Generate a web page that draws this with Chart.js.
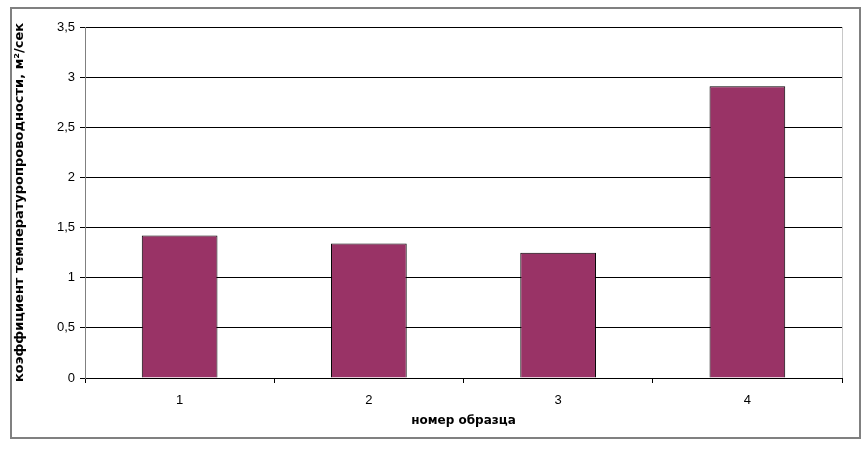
<!DOCTYPE html>
<html>
<head>
<meta charset="utf-8">
<script src="https://cdn.jsdelivr.net/npm/chart.js@4/dist/chart.umd.min.js"></script>
<style>
  html, body { margin: 0; padding: 0; background: #fff; }
  #wrap { position: relative; width: 867px; height: 452px; }
  #frame { position: absolute; left: 10px; top: 7px; width: 851px; height: 432px; box-sizing: border-box; border: 2px solid #808080; pointer-events: none; }
</style>
</head>
<body>
<div id="wrap">
  <canvas id="c" width="867" height="452"></canvas>
  <div id="frame"></div>
</div>
<script>
const categories = ['1', '2', '3', '4'];
const diffusivity = [1.42, 1.34, 1.25, 2.91];
const yTicks = [0, 0.5, 1, 1.5, 2, 2.5, 3, 3.5];
const xTitle = 'номер образца';
const yTitle = 'коэффициент температуропроводности, м²/сек';

const FONT = '"Liberation Sans", Arial, sans-serif';
const TFONT = '"DejaVu Sans", "Liberation Sans", Arial, sans-serif';

const rightBorder = {
  id: 'rightBorder',
  afterDraw(chart) {
    const a = chart.chartArea, ctx = chart.ctx;
    ctx.save();
    ctx.strokeStyle = '#c8c8c8';
    ctx.lineWidth = 1;
    ctx.beginPath();
    ctx.moveTo(Math.round(a.right) + 0.5, a.top);
    ctx.lineTo(Math.round(a.right) + 0.5, a.bottom);
    ctx.stroke();
    ctx.restore();
  }
};

new Chart(document.getElementById('c'), {
  type: 'bar',
  data: {
    labels: categories,
    datasets: [{
      data: diffusivity,
      backgroundColor: '#993366',
      borderColor: '#000000',
      borderWidth: 1,
      barPercentage: 0.4,
      categoryPercentage: 1.0
    }]
  },
  options: {
    responsive: false,
    animation: false,
    devicePixelRatio: 1,
    layout: { padding: { top: 27, right: 25, left: 0, bottom: 0 } },
    plugins: { legend: { display: false }, tooltip: { enabled: false } },
    scales: {
      x: {
        grid: { display: true, drawOnChartArea: false, drawTicks: true, tickLength: 5, color: '#000000', offset: true },
        border: { display: true, color: '#000000', width: 1 },
        ticks: { color: '#000000', font: { family: FONT, size: 13 }, padding: 10 },
        title: { display: true, text: xTitle, color: '#000000', font: { family: TFONT, size: 12, weight: 'bold' }, padding: { top: 24, bottom: 24 } },
        afterFit(scale) { scale.height = 74; }
      },
      y: {
        min: 0,
        max: 3.5,
        afterBuildTicks(scale) { scale.ticks = yTicks.map(v => ({ value: v })); },
        grid: { color: '#000000', lineWidth: 1, drawTicks: true, tickLength: 5, tickColor: '#000000' },
        border: { display: true, color: '#808080', width: 1 },
        ticks: {
          color: '#000000',
          font: { family: FONT, size: 13 },
          padding: 5,
          callback: v => String(v).replace('.', ',')
        },
        title: { display: true, text: yTitle, color: '#000000', font: { family: TFONT, size: 13, weight: 'bold' }, padding: { top: 12, bottom: 12 } },
        afterFit(scale) { scale.width = 85; }
      }
    }
  },
  plugins: [rightBorder]
});
</script>
</body>
</html>
